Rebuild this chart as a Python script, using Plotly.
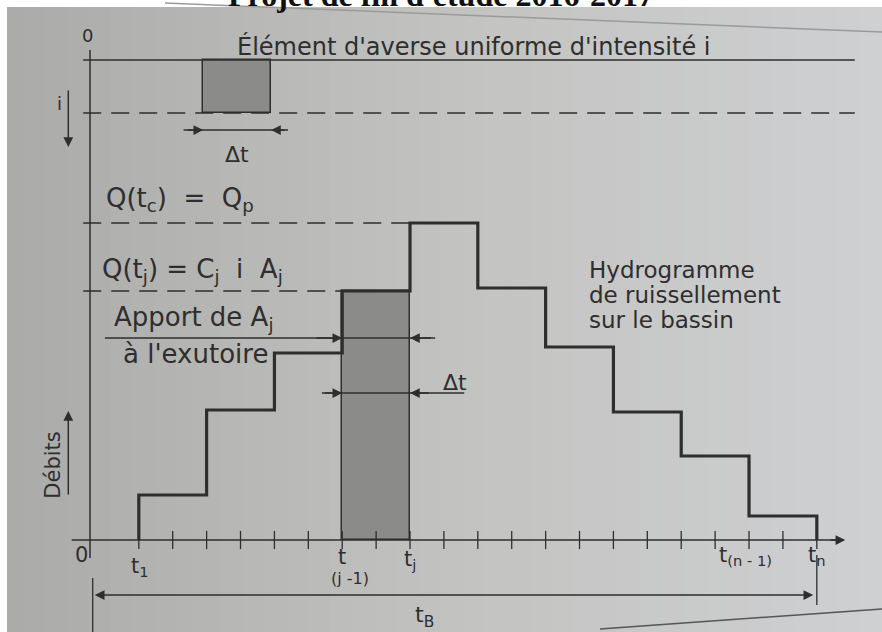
import plotly.graph_objects as go

# ---- data -------------------------------------------------------------
DT = 1.0                 # rainfall element duration (time unit)
T1 = 0.72                # start of runoff at the outlet
N_STEPS = 10             # number of Δt steps in the hydrograph
q_steps = [45, 130, 187, 249, 317, 252, 193, 128, 84, 24]   # runoff per step
J = 4                    # step j whose contributing area A_j is highlighted
rain_start = 1.67        # start of the uniform rainfall element
rain_zero = 480          # zero line of the (downward) rainfall axis
rain_i = 53              # uniform intensity i

edges = [T1 + k * DT for k in range(N_STEPS + 1)]
tick_times = [T1 + k * DT / 2 for k in range(2 * N_STEPS + 1)]

INK = "#2e2e2e"
FONT = "DejaVu Sans"
FILL = "#8b8b8a"

# stepped hydrograph outline
hx, hy = [edges[0]], [0]
for k, q in enumerate(q_steps):
    hx += [edges[k], edges[k + 1]]
    hy += [q, q]
hx.append(edges[-1])
hy.append(0)

fig = go.Figure()

# contribution of A_j during step j
fig.add_trace(go.Bar(
    x=[(edges[J - 1] + edges[J]) / 2], y=[q_steps[J - 1]], width=[DT],
    marker=dict(color=FILL, line=dict(color=INK, width=1.5)),
    hoverinfo="skip"))

# uniform rainfall element
fig.add_trace(go.Bar(
    x=[rain_start + DT / 2], y=[-rain_i], base=[rain_zero], width=[DT],
    marker=dict(color=FILL, line=dict(color=INK, width=1.5)),
    hoverinfo="skip"))


def seg(xs, ys, width=1.5, dash=None, color=INK):
    fig.add_trace(go.Scatter(
        x=xs, y=ys, mode="lines", hoverinfo="skip",
        line=dict(color=color, width=width, dash=dash)))


def head(x, y, tx, ty, side="end"):
    fig.add_annotation(
        x=x, y=y, ax=tx, ay=ty, xref="x", yref="y", axref="x", ayref="y",
        text="", showarrow=True, arrowhead=2, startarrowhead=2,
        arrowside=side, arrowsize=1.3, arrowwidth=1.5, arrowcolor=INK,
        standoff=0, startstandoff=0)


# rainfall panel: zero line and intensity level
seg([-0.1, 11.28], [rain_zero, rain_zero])
seg([-0.1, 11.28], [rain_zero - rain_i] * 2, dash="18px,10px")

# Q(tc)=Qp and Q(tj) reference levels
seg([-0.1, edges[J]], [max(q_steps)] * 2, dash="18px,10px")
seg([-0.1, edges[J - 1]], [q_steps[J - 1]] * 2, dash="18px,10px")

# axes
seg([0, 0], [490, -18])
seg([-0.27, 11.0], [0, 0])
head(11.14, 0, 10.9, 0)

# ticks on the time axis
fig.add_trace(go.Scatter(
    x=tick_times, y=[0] * len(tick_times), mode="markers", hoverinfo="skip",
    marker=dict(symbol="line-ns-open", size=13, color=INK,
                line=dict(color=INK, width=1.3))))

# hydrograph
seg(hx, hy, width=3.2)

# Δt under the rainfall element
seg([rain_start - 0.29, rain_start + DT + 0.25], [410, 410])
head(rain_start, 410, rain_start - 0.25, 410)
head(rain_start + DT, 410, rain_start + DT + 0.22, 410)

# contribution of A_j to the outlet
seg([0.22, edges[J] + 0.37], [202, 202])
head(edges[J - 1], 202, edges[J - 1] - 0.4, 202)
head(edges[J], 202, edges[J] + 0.33, 202)

# Δt across the highlighted column
seg([edges[J - 1] - 0.3, edges[J] + 0.8], [147, 147])
head(edges[J - 1], 147, edges[J - 1] - 0.28, 147)
head(edges[J], 147, edges[J] + 0.3, 147)

# intensity direction and discharge direction
head(-0.32, 393, -0.32, 451)
head(-0.32, 129, -0.32, 44)

# base time t_B
seg([0.04, 0.04], [-38, -92], width=1.3)
seg([edges[-1], edges[-1]], [-15, -65], width=1.3)
head(0.07, -55, edges[-1] - 0.03, -55, side="end+start")


def label(x, y, text, size=21, xanchor="center", **kw):
    fig.add_annotation(x=x, y=y, xref="x", yref="y", text=text, showarrow=False,
                       xanchor=xanchor, yanchor="middle",
                       font=dict(family=FONT, size=size, color=INK), **kw)


label(-0.04, 505, "0", size=18)
label(2.14, 494, "Élément d'averse uniforme d'intensité i", size=24, xanchor="left")
label(-0.45, 437, "i", size=18)
label(rain_start + DT / 2, 386, "Δt", size=22)
label(0.2, 341, "Q(t<sub>c</sub>)  =  Q<sub>p</sub>", size=26, xanchor="left")
label(0.15, 270, "Q(t<sub>j</sub>) = C<sub>j</sub>  i  A<sub>j</sub>", size=26, xanchor="left")
label(0.32, 222, "Apport de A<sub>j</sub>", size=26, xanchor="left")
label(0.45, 186, "à l'exutoire", size=26, xanchor="left")
label(5.38, 158, "Δt", size=22)
for yy, line in zip([270, 245, 220], ["Hydrogramme", "de ruissellement", "sur le bassin"]):
    label(7.33, yy, line, size=23, xanchor="left")
label(-0.55, 75, "Débits", size=21, textangle=-90)

label(-0.12, -15, "0", size=21)
label(edges[0] - 0.14, -27, "t<sub>1</sub>", size=21, xanchor="left")
label(edges[J - 1], -17, "t", size=21)
label(edges[J - 1] + 0.12, -38, "(j -1)", size=16)
label(edges[J], -20, "t<sub>j</sub>", size=21)
label(edges[-2] - 0.05, -16, "t<sub>(n - 1)</sub>", size=21)
label(edges[-1], -16, "t<sub>n</sub>", size=21)
label(4.94, -76, "t<sub>B</sub>", size=22)

# running header of the page
fig.add_annotation(x=0.5, y=1 + 5 / 632, xref="paper", yref="paper", yanchor="middle",
                   text="<b>Projet de fin d'étude 2016-2017</b>", showarrow=False,
                   font=dict(family="Liberation Serif", size=32, color="#111"))

# photographed page: shading from the darker left edge to the lighter right side
shapes = []
N_BANDS = 40
left_rgb, mid_rgb, right_rgb = (170, 170, 168), (194, 194, 192), (207, 208, 210)
for b in range(N_BANDS):
    f = (b + 0.5) / N_BANDS
    if f < 0.5:
        c = [a + (m - a) * f / 0.5 for a, m in zip(left_rgb, mid_rgb)]
    else:
        c = [m + (r - m) * (f - 0.5) / 0.5 for m, r in zip(mid_rgb, right_rgb)]
    shapes.append(dict(type="rect", xref="paper", yref="paper", layer="below",
                       x0=b / N_BANDS, x1=(b + 1) / N_BANDS + 0.002, y0=0, y1=1,
                       fillcolor="rgb(%d,%d,%d)" % tuple(round(v) for v in c),
                       line=dict(width=0)))
# white page margins around the photo
shapes.append(dict(type="rect", xref="paper", yref="paper", layer="below",
                   x0=0, x1=7 / 882, y0=0, y1=1, fillcolor="white", line=dict(width=0)))
shapes.append(dict(type="rect", xref="paper", yref="paper", layer="below",
                   x0=0, x1=1, y0=1 - 7 / 632, y1=1, fillcolor="white", line=dict(width=0)))
# paper edges visible in the photo
shapes.append(dict(type="line", xref="paper", yref="paper", layer="below",
                   x0=165 / 882, y0=1 - 3 / 632, x1=1, y1=1 - 32 / 632,
                   line=dict(color="#9a9a9a", width=1.5)))
shapes.append(dict(type="line", xref="paper", yref="paper", layer="below",
                   x0=600 / 882, y0=1 - 629 / 632, x1=1, y1=1 - 609 / 632,
                   line=dict(color="#555555", width=1.5)))

fig.update_layout(
    width=882, height=632, margin=dict(l=0, r=0, t=0, b=0),
    paper_bgcolor="#c4c4c1", plot_bgcolor="rgba(0,0,0,0)",
    showlegend=False, bargap=0, shapes=shapes,
    xaxis=dict(range=[-90 / 67.8, 792 / 67.8], visible=False, fixedrange=True),
    yaxis=dict(range=[-92, 540], visible=False, fixedrange=True),
)

fig.write_html("out.html")
